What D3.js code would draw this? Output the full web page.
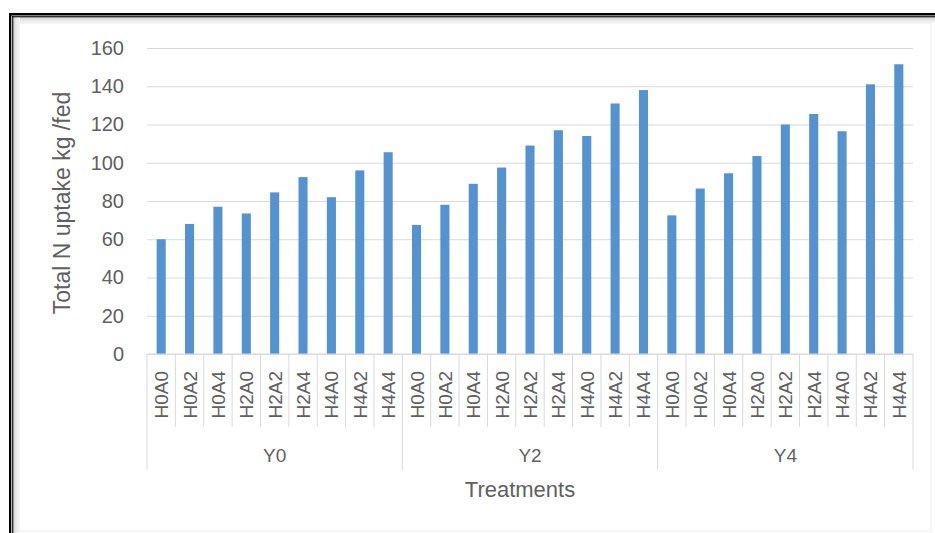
<!DOCTYPE html>
<html>
<head>
<meta charset="utf-8">
<script src="https://cdn.jsdelivr.net/npm/d3@7"></script>
<style>
	body { margin: 0; background: #fff; }
	text { font-family: "Liberation Sans", Arial, sans-serif; fill: #606060; }
</style>
</head>
<body>
<main></main>
<script>
const groups = ["Y0", "Y2", "Y4"];
const treatments = ["H0A0", "H0A2", "H0A4", "H2A0", "H2A2", "H2A4", "H4A0", "H4A2", "H4A4"];
const y0Values = [60, 68, 77, 73.5, 84.5, 92.5, 82, 96, 105.5];
const y2Values = [67.5, 78, 89, 97.5, 109, 117, 114, 131, 138];
const y4Values = [72.5, 86.5, 94.5, 103.5, 120, 125.5, 116.5, 141, 151.5];
const yTicks = [0, 20, 40, 60, 80, 100, 120, 140, 160];

const valuesByGroup = {Y0: y0Values, Y2: y2Values, Y4: y4Values};
const dataset = [];
groups.forEach((g) => {
	treatments.forEach((t, i) => {
		dataset.push({group: g, name: t, key: g + "|" + t, value: valuesByGroup[g][i]});
	});
});

const w = 935,
	h = 533,
	plotLeft = 147,
	plotRight = 913,
	plotTop = 48,
	base = 354;

const svg = d3.select("main")
	.append("svg")
	.attr("width", w)
	.attr("height", h)
	.style("display", "block");

// frame: double black line on top/left, soft shadow inside
const defs = svg.append("defs");
const gTop = defs.append("linearGradient").attr("id", "shTop").attr("x1", 0).attr("y1", 0).attr("x2", 0).attr("y2", 1);
gTop.append("stop").attr("offset", "0%").attr("stop-color", "#d4d4d4");
gTop.append("stop").attr("offset", "100%").attr("stop-color", "#fff");
const gLeft = defs.append("linearGradient").attr("id", "shLeft").attr("x1", 0).attr("y1", 0).attr("x2", 1).attr("y2", 0);
gLeft.append("stop").attr("offset", "0%").attr("stop-color", "#d4d4d4");
gLeft.append("stop").attr("offset", "100%").attr("stop-color", "#fff");

svg.append("rect").attr("x", 13).attr("y", 17).attr("width", w - 13).attr("height", 7).attr("fill", "url(#shTop)");
svg.append("rect").attr("x", 13).attr("y", 17).attr("width", 7).attr("height", h - 17).attr("fill", "url(#shLeft)");
svg.append("rect").attr("x", 19).attr("y", 23).attr("width", 912).attr("height", 508)
	.attr("fill", "none").attr("stroke", "#ececec");

svg.append("rect").attr("x", 9).attr("y", 13).attr("width", w - 9).attr("height", 2.5).attr("fill", "#000");
svg.append("rect").attr("x", 12).attr("y", 16.2).attr("width", w - 12).attr("height", 1.1).attr("fill", "#000");
svg.append("rect").attr("x", 9).attr("y", 13).attr("width", 2.3).attr("height", h - 13).attr("fill", "#000");
svg.append("rect").attr("x", 12.2).attr("y", 16.2).attr("width", 1.1).attr("height", h - 16).attr("fill", "#000");

const xScale = d3.scaleBand()
	.domain(dataset.map((d) => d.key))
	.range([plotLeft, plotRight])
	.paddingInner(0.68)
	.paddingOuter(0.34);

const yScale = d3.scaleLinear()
	.domain([0, 160])
	.range([base, plotTop]);

const step = xScale.step();

// gridlines
const yAxis = d3.axisLeft(yScale).tickValues(yTicks).tickSize(-(plotRight - plotLeft)).tickPadding(23);
const gy = svg.append("g")
	.attr("transform", "translate(" + plotLeft + ",0)")
	.call(yAxis);
gy.select(".domain").remove();
gy.selectAll(".tick line").attr("stroke", "#d9d9d9").attr("stroke-width", 1);
gy.selectAll(".tick text").style("font-size", "20px").attr("fill", "#606060");

// bars
svg.selectAll("rect.bar")
	.data(dataset)
	.enter()
	.append("rect")
	.attr("class", "bar")
	.attr("x", (d) => xScale(d.key))
	.attr("y", (d) => yScale(d.value))
	.attr("width", xScale.bandwidth())
	.attr("height", (d) => base - yScale(d.value))
	.attr("fill", "#5592d0");

// category axis
svg.append("line")
	.attr("x1", plotLeft).attr("x2", plotRight)
	.attr("y1", base).attr("y2", base)
	.attr("stroke", "#d9d9d9");

const edges = d3.range(dataset.length + 1);
svg.selectAll("line.sep")
	.data(edges)
	.enter()
	.append("line")
	.attr("class", "sep")
	.attr("x1", (i) => plotLeft + i * step)
	.attr("x2", (i) => plotLeft + i * step)
	.attr("y1", base)
	.attr("y2", (i) => i % treatments.length === 0 ? 470 : 427)
	.attr("stroke", "#d9d9d9");

svg.selectAll("text.cat")
	.data(dataset)
	.enter()
	.append("text")
	.attr("class", "cat")
	.attr("transform", (d) => "translate(" + (xScale(d.key) + xScale.bandwidth() / 2 + 7) + "," + 371 + ") rotate(-90)")
	.attr("text-anchor", "end")
	.style("font-size", "19px")
	.text((d) => d.name);

svg.selectAll("text.grp")
	.data(groups)
	.enter()
	.append("text")
	.attr("class", "grp")
	.attr("x", (g, i) => plotLeft + (i + 0.5) * treatments.length * step)
	.attr("y", 462)
	.attr("text-anchor", "middle")
	.style("font-size", "19px")
	.text((g) => g);

// axis titles
svg.append("text")
	.attr("x", 520)
	.attr("y", 497)
	.attr("text-anchor", "middle")
	.style("font-size", "22px")
	.text("Treatments");

svg.append("text")
	.attr("transform", "translate(70,203) rotate(-90)")
	.attr("text-anchor", "middle")
	.style("font-size", "23px")
	.text("Total N uptake kg /fed");
</script>
</body>
</html>
